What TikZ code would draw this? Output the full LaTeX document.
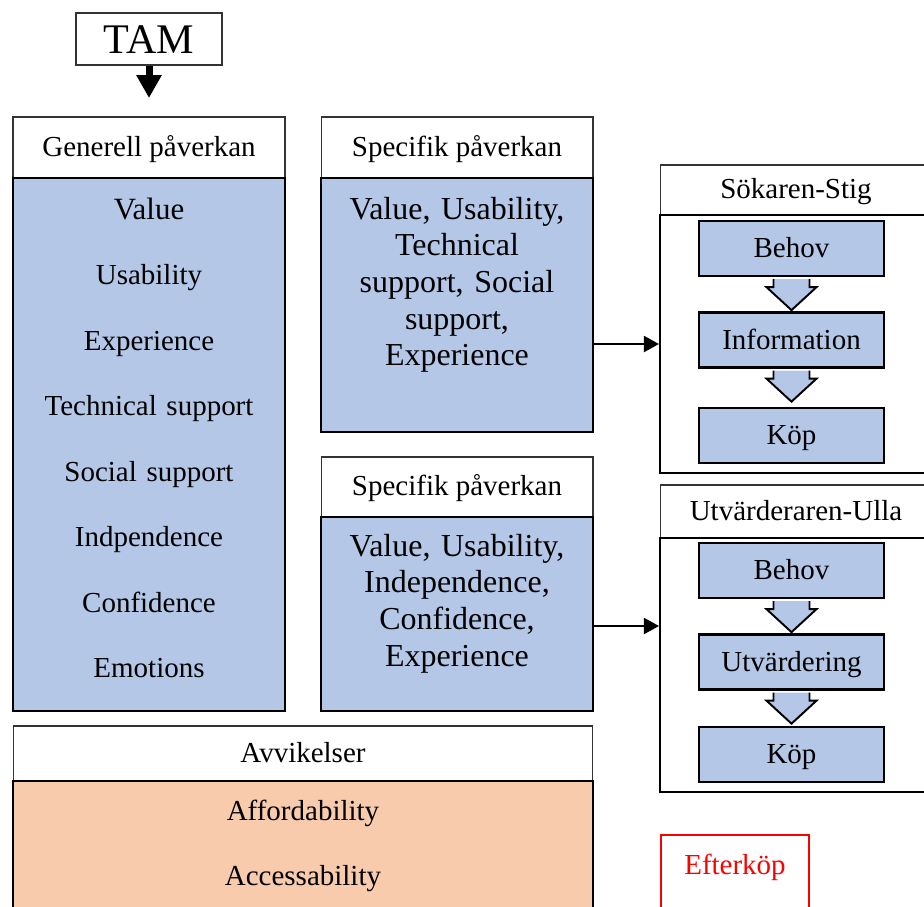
\documentclass[tikz,border=0pt]{standalone}
\usepackage{fontspec}
\setmainfont{Liberation Serif}
\usepackage{tikz}
\usetikzlibrary{arrows.meta}
\definecolor{tamblue}{RGB}{180, 199, 231}
\definecolor{tamorange}{RGB}{248, 203, 173}
\definecolor{tamred}{RGB}{255, 0, 0}

\begin{document}
\begin{tikzpicture}[
  x=0.02cm, y=-0.02cm,
  headbox/.style={
    rectangle, draw=black!80, line width=0.6pt, fill=white,
    font=\fontsize{16.5}{19}\selectfont, text height=10.2pt, text depth=0pt
  },
  bodybox/.style={rectangle, draw=black, line width=1.4pt, fill=#1},
  framebox/.style={rectangle, draw=black, line width=1.2pt},
  stepbox/.style={
    rectangle, draw=black, line width=1.3pt, fill=tamblue,
    minimum width=3.7cm, minimum height=1.1cm,
    font=\fontsize{16.5}{19}\selectfont, text height=10.8pt, text depth=0pt
  },
  itemtext/.style={font=\fontsize{16.5}{37.3}\selectfont, align=center,
    text width=5cm, anchor=base, inner sep=0pt},
  listtext/.style={font=\fontsize{18.2}{20.9}\selectfont, align=center,
    text width=5.2cm, anchor=base, inner sep=0pt},
  conn/.style={-{Triangle[length=0.3cm, width=0.32cm]}, line width=1.1pt},
  tamarrow/.style={-{Triangle[length=0.46cm, width=0.48cm]}, line width=0.14cm},
  blockarrow/.style={fill=tamblue, draw=black, line width=1.1pt, line join=miter},
]

\useasboundingbox (0,0) rectangle (924,907);
\clip (0,0) rectangle (924,907);

% TAM on top
\node[headbox, minimum width=2.92cm, minimum height=1.04cm,
      font=\fontsize{24}{28}\selectfont, text height=16pt] (tam) at (149,39) {TAM};
\coordinate (tamtip) at (149,98);
\draw[tamarrow] (tam.south) -- (tamtip);

% general influence
\node[headbox, minimum width=5.44cm, minimum height=1.22cm] (genhead) at (149,147.5) {Generell påverkan};
\node[bodybox=tamblue, minimum width=5.44cm, minimum height=10.66cm] (genbody) at (149,444.5) {};
\node[itemtext] (genlist) at (149,219) {{\fontsize{17.6}{20}\selectfont Value}\\Usability\\Experience\\Technical support\\Social support\\Indpendence\\Confidence\\Emotions};

% specific influence
\node[headbox, minimum width=5.44cm, minimum height=1.22cm] (spechead1) at (457,147.5) {Specifik påverkan};
\node[bodybox=tamblue, minimum width=5.44cm, minimum height=5.08cm] (specbody1) at (457,305) {};
\node[listtext] (speclist1) at (457,219) {Value, Usability,\\Technical\\support, Social\\support,\\Experience};

\node[headbox, minimum width=5.44cm, minimum height=1.2cm] (spechead2) at (457,487) {Specifik påverkan};
\node[bodybox=tamblue, minimum width=5.44cm, minimum height=3.88cm] (specbody2) at (457,614) {};
\node[listtext] (speclist2) at (457,556) {Value, Usability,\\Independence,\\Confidence,\\Experience};

% deviations
\node[headbox, minimum width=11.6cm, minimum height=1.1cm] (avvhead) at (303,753.5) {Avvikelser};
\node[bodybox=tamorange, minimum width=11.6cm, minimum height=3.4cm] (avvbody) at (303,866) {};
\node[itemtext, text width=6cm] (avvlist) at (303,820) {Affordability\\Accessability};

% persona 1
\node[headbox, minimum width=5.44cm, minimum height=1.0cm] (sokhead) at (796,190) {Sökaren-Stig};
\node[framebox, minimum width=5.44cm, minimum height=5.16cm] (sokbody) at (796,344) {};
\node[stepbox] (sokbehov) at (791.5,248.5) {Behov};
\node[stepbox] (sokinfo) at (791.5,340) {Information};
\node[stepbox] (sokkop) at (791.5,435.5) {Köp};

% persona 2
\node[headbox, minimum width=5.44cm, minimum height=1.06cm] (utvhead) at (796,511.5) {Utvärderaren-Ulla};
\node[framebox, minimum width=5.44cm, minimum height=5.08cm] (utvbody) at (796,665) {};
\node[stepbox] (utvbehov) at (791.5,570.5) {Behov};
\node[stepbox] (utvutv) at (791.5,662) {Utvärdering};
\node[stepbox] (utvkop) at (791.5,754.5) {Köp};

% block arrows between steps
\def\stepdown#1{\filldraw[blockarrow] ([yshift=-0.04cm]#1.south) ++(-18,0) -- ++(0,8) -- ++(-7,0) -- ++(25,23) -- ++(25,-23) -- ++(-7,0) -- ++(0,-8);}
\stepdown{sokbehov}
\stepdown{sokinfo}
\stepdown{utvbehov}
\stepdown{utvutv}

% after purchase
\node[rectangle, draw=tamred, line width=1.2pt, minimum width=2.96cm, minimum height=2.4cm] (efterbox) at (735,895) {};
\node[font=\fontsize{16.5}{19}\selectfont, text=tamred, anchor=base] (efter) at (735,874) {Efterköp};

% influence -> persona
\draw[conn] (specbody1.east |- sokbody.west) -- (sokbody.west);
\draw[conn] ([yshift=-0.24cm]specbody2.east) coordinate (spec2out) -- (spec2out -| utvbody.west);

\end{tikzpicture}
\end{document}
